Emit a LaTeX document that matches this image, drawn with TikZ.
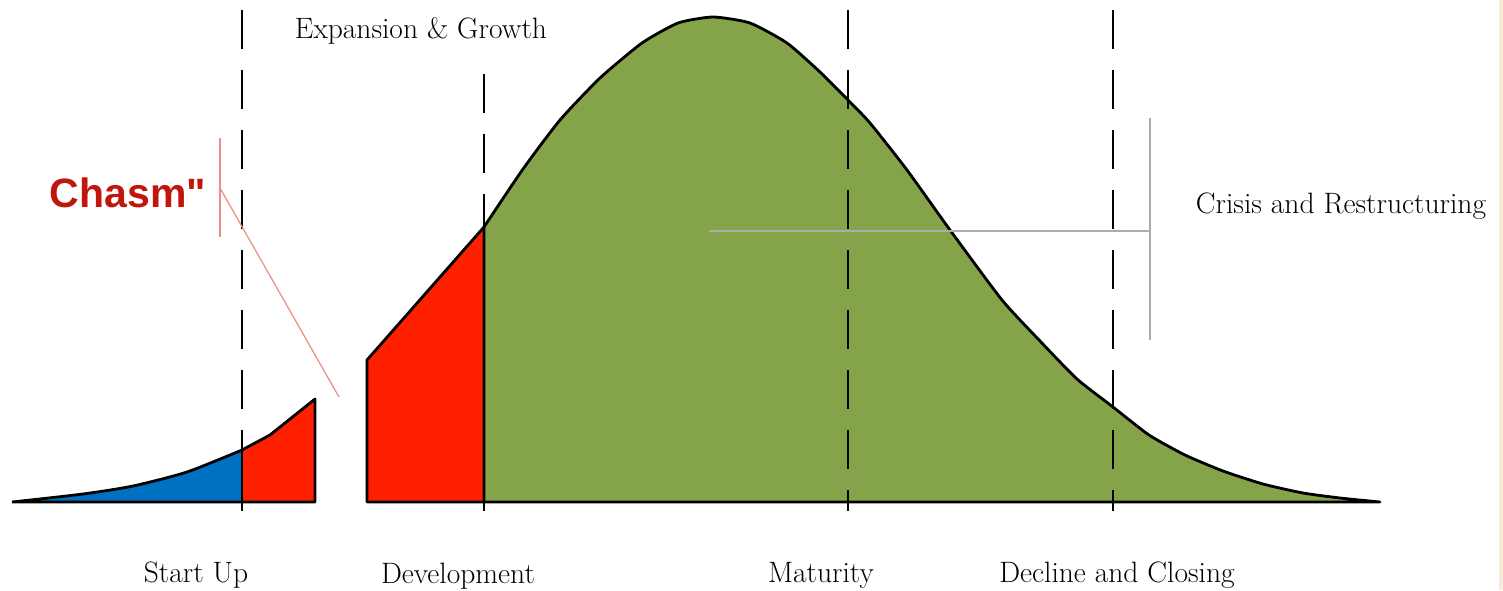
\documentclass[tikz,border=0pt]{standalone}
\usepackage{fontspec}
\newfontfamily\chasmfont{Liberation Sans}
\definecolor{stageblue}{RGB}{0,112,192}
\definecolor{stagered}{RGB}{255,32,0}
\definecolor{stagegreen}{RGB}{133,163,73}
\definecolor{chasmred}{RGB}{192,22,12}
\definecolor{pointerred}{RGB}{236,140,130}
\definecolor{guidegray}{RGB}{172,172,172}
\definecolor{edgebeige}{RGB}{250,234,218}
\begin{document}
\begin{tikzpicture}[x=1pt,y=-1pt,
  outline/.style={draw=black,line width=2.8pt,line join=round},
  phaseline/.style={draw=black,line width=2.6pt,dash pattern=on 39pt off 21pt},
  guide/.style={draw=guidegray,line width=1.6pt},
  pointer/.style={draw=pointerred,line width=1.2pt},
  lbl/.style={font=\fontsize{29.5}{34}\selectfont,inner sep=0pt,anchor=base},
  chasmlbl/.style={font=\chasmfont\bfseries\fontsize{41}{48}\selectfont,text=chasmred,inner sep=0pt,anchor=base}]

% page area
\useasboundingbox (0,0) rectangle (1503,590);
\fill[white] (0,0) rectangle (1503,590);
\fill[edgebeige] (1499,0) rectangle (1503,590);

% early market: blue and red wedges
\fill[stageblue] (12,502) plot[smooth,tension=0.4] coordinates {(12,502) (83,494) (133,486) (187,472) (242,450)} -- (242,502) -- cycle;
\fill[stagered] (242,450) -- (270,435) -- (315,399) -- (315,502) -- (242,502) -- cycle;

% mainstream market: red slope and green bell
\fill[stagered] (367,502) -- (367,360) -- (484,227) -- (484,502) -- cycle;
\fill[stagegreen] (484,502) -- plot[smooth,tension=0.35] coordinates {
  (484,227) (523,169) (560,120) (600,78) (642,43) (678,23) (713,17) (750,23)
  (787,43) (820,72) (848,100) (870,123) (907,170) (950,230) (1002,300)
  (1040,341) (1077,379) (1113,407) (1149,435) (1185,455) (1223,471)
  (1263,484) (1303,493) (1340,498) (1380,502)} -- cycle;

% outlines
\draw[outline] plot[smooth,tension=0.4] coordinates {(12,502) (83,494) (133,486) (187,472) (242,450)}
  -- (270,435) -- (315,399) -- (315,502) -- (12,502);
\draw[outline] (242,450) -- (242,502);
\draw[outline] (484,502) -- (367,502) -- (367,360) -- (484,227) -- cycle;
\draw[outline] plot[smooth,tension=0.35] coordinates {
  (484,227) (523,169) (560,120) (600,78) (642,43) (678,23) (713,17) (750,23)
  (787,43) (820,72) (848,100) (870,123) (907,170) (950,230) (1002,300)
  (1040,341) (1077,379) (1113,407) (1149,435) (1185,455) (1223,471)
  (1263,484) (1303,493) (1340,498) (1380,502)} -- (484,502);

% stage boundaries
\coordinate (b1top) at (242,10);  \coordinate (b1bot) at (242,511);
\coordinate (b2top) at (484,74);  \coordinate (b2bot) at (484,511);
\coordinate (b3top) at (848,10);  \coordinate (b3bot) at (848,511);
\coordinate (b4top) at (1113,10); \coordinate (b4bot) at (1113,511);
\draw[phaseline] (b1top) -- (b1bot);
\draw[phaseline] (b2top) -- (b2bot);
\draw[phaseline] (b3top) -- (b3bot);
\draw[phaseline] (b4top) -- (b4bot);

% crisis bracket
\coordinate (crisisA) at (709,231);
\coordinate (crisisB) at (1150,231);
\coordinate (crisisTop) at (1150,118);
\coordinate (crisisBot) at (1150,340);
\draw[guide] (crisisA) -- (crisisB);
\draw[guide] (crisisTop) -- (crisisBot);

% chasm marker
\coordinate (chasmTop) at (220,138);
\coordinate (chasmBot) at (220,237);
\coordinate (chasmFrom) at (220,188);
\coordinate (chasmTo) at (339,397);
\draw[pointer] (chasmTop) -- (chasmBot);
\draw[pointer] (chasmFrom) -- (chasmTo);
\node[chasmlbl] (chasm) at (128,207) {Chasm"};

% labels
\node[lbl] (expansion) at (421,38) {Expansion \& Growth};
\node[lbl] (crisis) at (1341,213) {Crisis and Restructuring};
\node[lbl] (startup) at (196,582) {Start Up};
\node[lbl] (development) at (458,583) {Development};
\node[lbl] (maturity) at (821,582) {Maturity};
\node[lbl] (decline) at (1117,582) {Decline and Closing};
\end{tikzpicture}
\end{document}
